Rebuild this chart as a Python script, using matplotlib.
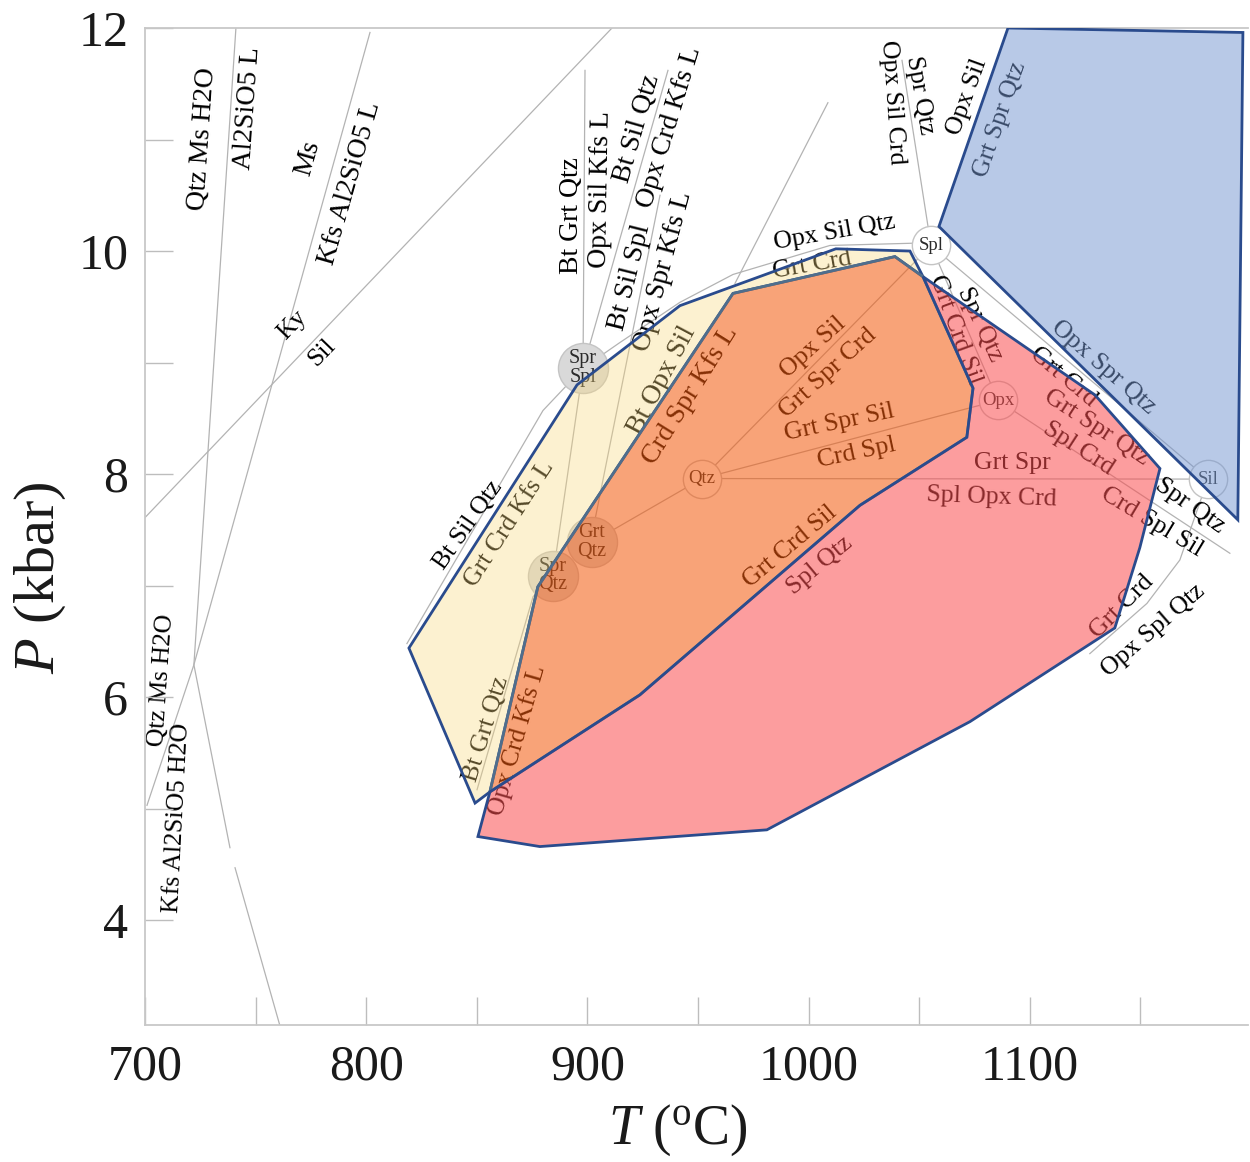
import matplotlib
matplotlib.use('Agg')
import matplotlib.pyplot as plt
from matplotlib.patches import Polygon
from matplotlib.ticker import MultipleLocator

plt.rcParams['font.family'] = ['Liberation Serif', 'DejaVu Serif']
plt.rcParams['mathtext.fontset'] = 'custom'
plt.rcParams['mathtext.rm'] = 'Liberation Serif'
plt.rcParams['mathtext.it'] = 'Liberation Serif:italic'

# ---- shaded fields (T in degC, P in kbar) ----
yellow_T = [819.3, 895.3, 941.8, 1012.3, 1045.8, 1051.7, 1039.0, 965.8, 877.6, 855.9, 849.2]
yellow_P = [6.44, 8.80, 9.51, 10.02, 10.00, 9.77, 9.95, 9.62, 6.99, 5.15, 5.05]
orange_T = [855.9, 877.6, 965.8, 1039.0, 1051.7, 1074.3, 1071.5, 1023.2, 923.7]
orange_P = [5.15, 6.99, 9.62, 9.95, 9.77, 8.77, 8.33, 7.72, 6.02]
red_T = [855.9, 923.7, 1023.2, 1071.5, 1074.3, 1051.7, 1129.4, 1158.8, 1149.7,
         1138.4, 1072.9, 981.1, 878.5, 850.5]
red_P = [5.15, 6.02, 7.72, 8.33, 8.77, 9.77, 8.71, 8.05, 7.34,
         6.62, 5.78, 4.81, 4.66, 4.75]
blue_T = [1090.1, 1196.3, 1194.0, 1058.9]
blue_P = [12.0, 11.96, 7.59, 10.22]

# ---- reaction lines ----
wet_solidus = ([741.1, 722.1, 738.4], [12.0, 6.29, 4.65])
wet_solidus_low = ([740.7, 761.9], [4.47, 2.99])
ms_out = ([801.7, 722.1, 700.9], [11.96, 6.29, 5.03])
ky_sil = ([911.1, 700.0], [12.0, 7.61])
upper_mid = ([1008.7, 966.7], [11.33, 9.71])
crd_arc = ([818.4, 879.9, 898.0, 914.7, 941.8, 965.8, 1009.6, 1046.7, 1055.3],
           [6.48, 8.57, 8.95, 9.18, 9.54, 9.79, 10.05, 10.07, 10.05])
bt_grt_vert = ([898.9, 898.0], [11.62, 8.95])
bt_sil_a = ([936.4, 898.0], [11.62, 8.95])
bt_sil_b = ([932.8, 902.9], [10.50, 7.54])
spr_spl_spr_qtz = ([898.0, 884.4], [8.95, 7.09])
spr_qtz_down = ([884.4, 875.4, 850.1], [7.09, 6.90, 5.17])
grt_qtz_qtz = ([902.0, 951.8], [7.39, 7.96])
qtz_spl = ([951.8, 1055.3], [7.96, 10.05])
qtz_opx = ([951.8, 1085.6], [7.96, 8.66])
qtz_sil = ([951.8, 1180.5], [7.96, 7.955])
spl_up = ([1042.2, 1055.3], [11.71, 10.05])
spl_opx = ([1055.3, 1085.6], [10.05, 8.66])
spl_sil = ([1055.3, 1180.5], [10.05, 7.955])
opx_right = ([1085.6, 1190.4], [8.66, 7.29])
sil_arc = ([1180.5, 1167.8, 1152.9, 1127.1], [7.955, 7.23, 6.84, 6.39])
reaction_lines = [wet_solidus, wet_solidus_low, ms_out, ky_sil, upper_mid, crd_arc,
                  bt_grt_vert, bt_sil_a, bt_sil_b, spr_spl_spr_qtz, spr_qtz_down,
                  grt_qtz_qtz, qtz_spl, qtz_opx, qtz_sil, spl_up, spl_opx, spl_sil,
                  opx_right, sil_arc]

# ---- invariant points ----
node_T = [898.0, 884.4, 902.0, 951.8, 1055.3, 1085.6, 1180.5]
node_P = [8.95, 7.09, 7.39, 7.96, 10.05, 8.66, 7.955]
node_name = ['Spr\nSpl', 'Spr\nQtz', 'Grt\nQtz', 'Qtz', 'Spl', 'Opx', 'Sil']
node_gray = [True, True, True, False, False, False, False]

# ---- assemblage labels ----
label_text = ['Qtz Ms H2O', 'Al2SiO5 L', 'Ms', 'Kfs Al2SiO5 L', 'Ky', 'Sil',
              'Qtz Ms H2O', 'Kfs Al2SiO5 H2O',
              'Bt Grt Qtz', 'Opx Sil Kfs L', 'Bt Sil Qtz', 'Opx Crd Kfs L',
              'Bt Sil Spl', 'Opx Spr Kfs L', 'Bt Opx Sil',
              'Opx Sil Crd', 'Spr Qtz', 'Opx Sil', 'Grt Spr Qtz', 'Opx Sil Qtz', 'Grt Crd',
              'Grt Crd Sil', 'Spr Qtz', 'Opx Spr Qtz', 'Grt Crd', 'Grt Spr Qtz', 'Spl Crd',
              'Grt Spr', 'Spl Opx Crd', 'Crd Spl Sil', 'Spr Qtz', 'Grt Crd', 'Opx Spl Qtz',
              'Opx Sil', 'Grt Spr Crd', 'Grt Spr Sil', 'Crd Spl', 'Crd Spr Kfs L',
              'Grt Crd Sil', 'Spl Qtz',
              'Bt Sil Qtz', 'Grt Crd Kfs L', 'Bt Grt Qtz', 'Opx Crd Kfs L']
label_T = [726.2, 746.6, 773.7, 792.7, 766.4, 780.0,
           707.7, 714.5,
           893.0, 906.1, 922.4, 937.3,
           919.2, 934.1, 933.7,
           1037.6, 1050.3, 1071.5, 1086.5, 1011.9, 1001.5,
           1066.1, 1077.4, 1133.0, 1114.9, 1130.3, 1121.7,
           1091.9, 1082.8, 1155.2, 1172.3, 1141.6, 1155.6,
           1001.9, 1008.7, 1014.1, 1021.8, 946.3,
           991.5, 1005.1,
           846.0, 865.0, 854.1, 868.1]
label_P = [11.01, 11.28, 10.83, 10.61, 9.34, 9.09,
           6.15, 4.92,
           10.32, 10.55, 11.10, 11.11,
           9.76, 9.82, 8.84,
           11.33, 11.40, 11.38, 11.18, 10.17, 9.87,
           9.29, 9.34, 8.96, 8.87, 8.42, 8.23,
           8.10, 7.79, 7.57, 7.72, 6.81, 6.60,
           9.14, 8.91, 8.46, 8.19, 8.71,
           7.35, 7.18,
           7.54, 7.55, 5.71, 5.61]
label_rot = [86, 86, 74, 74, 46, 46,
             86, 87,
             90, 89, 74, 73,
             76, 75, 62,
             -86, -80, 70, 71, 10, 10,
             -70, -65, -41, -40, -33, -33,
             0, -2, -31, -35, 45, 41,
             42, 42, 12, 12, 58,
             40, 40,
             55, 57, 73, 74]

fig = plt.figure(figsize=(12.5, 11.62), dpi=100)
ax = fig.add_axes([0.116, 0.1179, 0.8824, 0.858])

grid_col = '#b3b3b3'
for T, P in reaction_lines:
    ax.plot(T, P, color=grid_col, lw=0.9, zorder=1)

for T, P, name, gray in zip(node_T, node_P, node_name, node_gray):
    ax.scatter([T], [P], s=1300 if gray else 760, marker='o',
               facecolor='#d9d9d9' if gray else 'white',
               edgecolor='#c4c4c4', linewidth=1.0, zorder=1.2)
    ax.text(T, P, name, ha='center', va='center', fontsize=14.5 if gray else 13.5,
            color='#2a2a2a', linespacing=0.95, zorder=1.3)

# steep labels on the left and top look a bit bigger in the original
big = {0, 1, 2, 3, 8, 9, 10, 11, 12, 13, 14, 37}
for i, (txt, T, P, r) in enumerate(zip(label_text, label_T, label_P, label_rot)):
    ax.text(T, P, txt, ha='center', va='center', rotation=r,
            rotation_mode='anchor', fontsize=20 if i in big else 18.5,
            color='black', zorder=1.4)

edge = '#2a4b8d'
ax.add_patch(Polygon(list(zip(yellow_T, yellow_P)), closed=True,
                     facecolor=(249/255, 215/255, 121/255, 0.35),
                     edgecolor=edge, lw=2.0, zorder=2))
ax.add_patch(Polygon(list(zip(orange_T, orange_P)), closed=True,
                     facecolor=(244/255, 88/255, 10/255, 0.55),
                     edgecolor='#4f6e8c', lw=2.0, zorder=3))
ax.add_patch(Polygon(list(zip(red_T, red_P)), closed=True,
                     facecolor=(250/255, 77/255, 79/255, 0.55),
                     edgecolor=edge, lw=2.0, zorder=4))
ax.add_patch(Polygon(list(zip(blue_T, blue_P)), closed=True,
                     facecolor=(115/255, 149/255, 209/255, 0.5),
                     edgecolor=edge, lw=2.0, zorder=5))

ax.set_xlim(700, 1198.6)
ax.set_ylim(3.06, 12)
ax.xaxis.set_major_locator(MultipleLocator(100))
ax.xaxis.set_minor_locator(MultipleLocator(50))
ax.yaxis.set_major_locator(MultipleLocator(2))
ax.yaxis.set_minor_locator(MultipleLocator(1))
ax.tick_params(which='both', direction='in', length=20, width=1.0, color='#bdbdbd',
               labelsize=36, labelcolor='#1a1a1a')
ax.tick_params(axis='x', pad=14)
ax.tick_params(axis='y', pad=12)
for s in ax.spines.values():
    s.set_color('#c8c8c8')
    s.set_linewidth(1.3)
ax.spines['right'].set_visible(False)

fig.text(0.032, 1 - 578 / 1162, r'$P$ (kbar)', rotation=90, ha='center', va='center',
         fontsize=42, color='#1a1a1a')
fig.text(0.542, 1 - 1130 / 1162, r'$T$ ($^{\mathrm{o}}$C)', ha='center', va='center',
         fontsize=40, color='#1a1a1a')

fig.savefig('out.png', dpi=100)
